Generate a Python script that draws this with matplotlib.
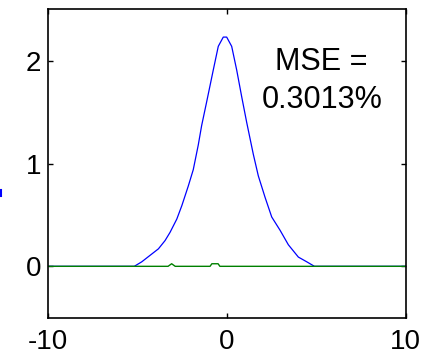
import numpy as np
import matplotlib
matplotlib.use('Agg')
import matplotlib.pyplot as plt
from matplotlib.lines import Line2D

plt.rcParams['font.family'] = ['Liberation Sans', 'DejaVu Sans']
plt.rcParams['axes.unicode_minus'] = False

# blue curve
blue_x = [-10, -5.19, -4.77, -4.21, -3.84, -3.47, -3.19, -2.81, -2.53, -2.17, -1.89,
          -1.61, -1.42, -1.14, -0.77, -0.49, -0.21, -0.02, 0.26, 0.54, 0.82,
          1.10, 1.47, 1.75, 2.13, 2.50, 2.97, 3.43, 3.99, 4.46, 4.89, 10]
blue_y = [0.0, 0.0, 0.044, 0.12, 0.17, 0.25, 0.33, 0.46, 0.59, 0.78, 0.94,
          1.18, 1.37, 1.60, 1.91, 2.14, 2.23, 2.23, 2.14, 1.91, 1.65,
          1.40, 1.09, 0.88, 0.67, 0.48, 0.35, 0.21, 0.09, 0.044, 0.0, 0.0]

# green curve (error, almost flat)
green_x = [-10, -3.3, -3.1, -2.9, -0.95, -0.85, -0.5, -0.4, 10]
green_y = [0, 0, 0.025, 0, 0, 0.025, 0.025, 0, 0]

mse_label = 'MSE ='
mse_value = '0.3013%'

fig = plt.figure(figsize=(4.25, 3.59), dpi=100)
ax = fig.add_axes([0.1137, 0.115, 0.841, 0.859])

ax.plot(blue_x, blue_y, color='#0000ff', linewidth=0.9)
ax.plot(green_x, green_y, color='#008000', linewidth=1.0)

ax.text(5.25, 1.91, mse_label, ha='center', va='baseline', fontsize=22)
ax.text(5.30, 1.54, mse_value, ha='center', va='baseline', fontsize=22)

ax.set_xlim(-10, 10)
ax.set_ylim(-0.5, 2.5)
ax.set_xticks([-10, 0, 10])
ax.set_yticks([0, 1, 2])
ax.tick_params(direction='in', length=3.5, width=1, labelsize=20,
               top=True, right=True)
ax.tick_params(axis='y', pad=5)
ax.tick_params(axis='x', pad=8)
for s in ax.spines.values():
    s.set_linewidth(1.2)

# stray blue fragment at the left edge
fig.add_artist(Line2D([0.002, 0.002], [0.455, 0.471], color='#0000ff', linewidth=1.5))

fig.savefig('out.png', dpi=100)
